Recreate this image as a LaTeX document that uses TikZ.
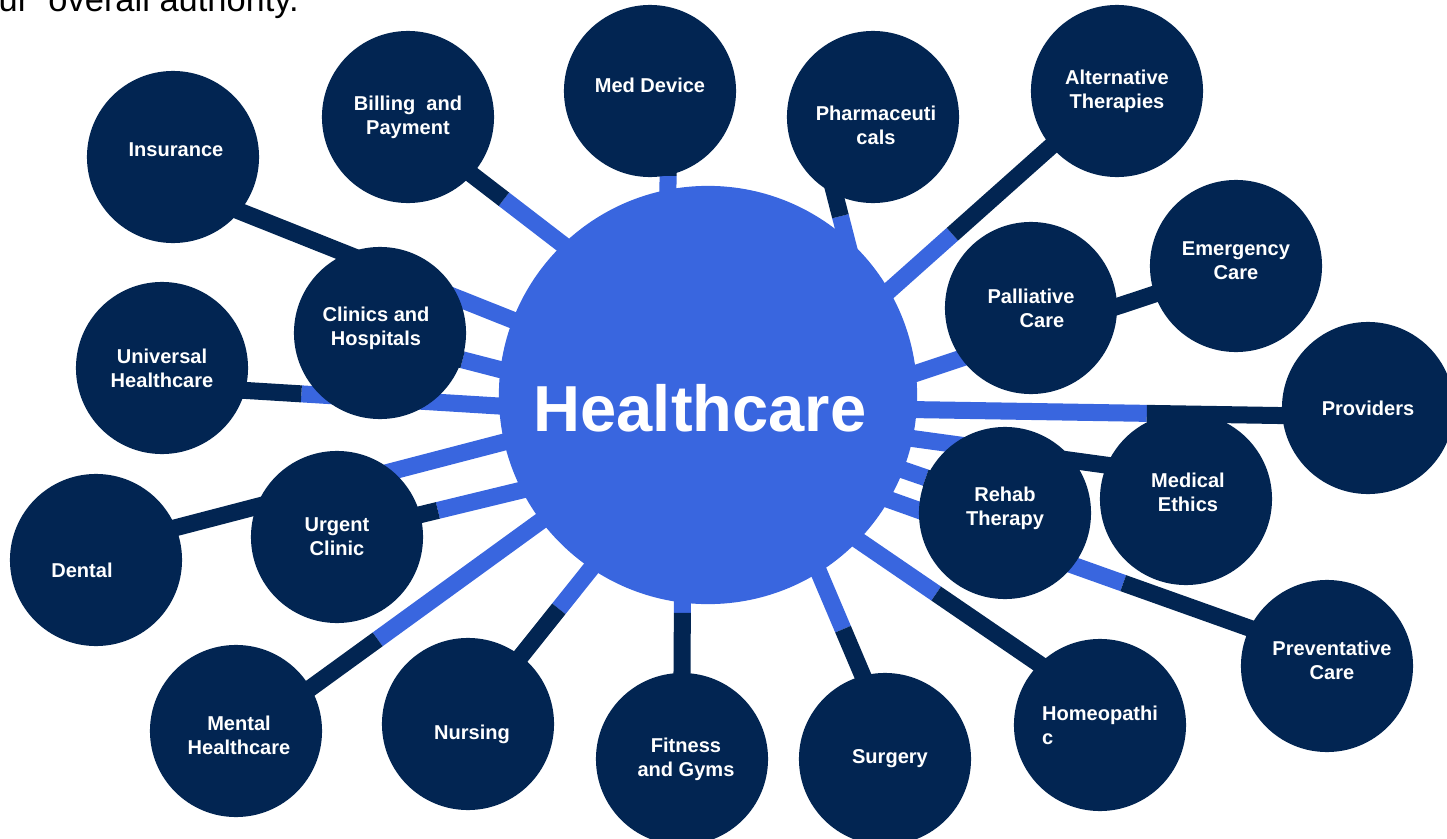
\documentclass[tikz,border=0pt]{standalone}
\usepackage{fontspec}
\setmainfont{Liberation Sans}
\usetikzlibrary{calc}
\definecolor{navy}{RGB}{2,37,82}
\definecolor{hubblue}{RGB}{57,102,223}
\pgfdeclarelayer{bg}
\pgfsetlayers{bg,main}

\begin{document}
\begin{tikzpicture}
    [x=0.01cm,y=-0.01cm,
     sat/.style={circle,fill=navy,minimum size=1.72cm,inner sep=0pt,text=white,
       align=center,font=\fontsize{5.7}{6.8}\selectfont\bfseries},
     sattext/.style={text=white,align=center,font=\fontsize{5.7}{6.8}\selectfont\bfseries},
     hubtext/.style={text=white,font=\fontsize{18.5}{22}\selectfont\bfseries},
     hubline/.style={hubblue,line width=0.17cm},
     satline/.style={navy,line width=0.17cm}]
    \useasboundingbox (0,0) rectangle (1447,839);
    \clip (0,0) rectangle (1447,839);

    \node[anchor=base west,inner sep=0pt,font=\fontsize{9.8}{12}\selectfont] (topnote) at (-2,11) {ur\ \ overall authority.};

    \node[circle,fill=hubblue,minimum size=4.18cm,inner sep=0pt,
      label={[hubtext,xshift=-0.08cm,yshift=-0.13cm]center:Healthcare}] (hub) at (708,395) {};

    \node[sat,label={[sattext,xshift=0.03cm,yshift=0.07cm]center:Insurance}] (ins) at (173,157) {};
    \node[sat] (bill) at (408,117) {Billing\ \ and\\Payment};
    \node[sat,label={[sattext,yshift=0.06cm]center:Med Device}] (med) at (650,91) {};
    \node[sat,label={[sattext,xshift=0.03cm,yshift=-0.08cm]center:Pharmaceuti\\cals}] (pharm) at (873,117) {};
    \node[sat] (alt) at (1117,91) {Alternative\\Therapies};
    \node[sat,label={[sattext,yshift=0.05cm]center:Emergency\\Care}] (emer) at (1236,266) {};
    \node[sat] (pall) at (1031,308) {Palliative\\\hspace*{0.22cm}Care};
    \node[sat] (prov) at (1368,408) {Providers};
    \node[sat,label={[sattext,xshift=0.02cm,yshift=0.07cm]center:Medical\\Ethics}] (ethics) at (1186,499) {};
    \node[sat,label={[sattext,yshift=0.05cm]center:Rehab\\Therapy}] (rehab) at (1005,513) {};
    \node[sat,label={[sattext,xshift=0.05cm,yshift=0.06cm]center:Preventative\\Care}] (prev) at (1327,666) {};
    \node[sat,align=left] (homeo) at (1100,725) {Homeopathi\\c};
    \node[sat,label={[sattext,xshift=0.05cm]center:Surgery}] (surg) at (885,759) {};
    \node[sat,label={[sattext,xshift=0.04cm]center:Fitness\\and Gyms}] (fit) at (682,759) {};
    \node[sat,label={[sattext,xshift=0.04cm,yshift=-0.1cm]center:Nursing}] (nurs) at (468,724) {};
    \node[sat,label={[sattext,xshift=0.03cm,yshift=-0.04cm]center:Mental\\Healthcare}] (mental) at (236,731) {};
    \node[sat,label={[sattext,xshift=-0.14cm,yshift=-0.1cm]center:Dental}] (dental) at (96,560) {};
    \node[sat] (urgent) at (337,537) {Urgent\\Clinic};
    \node[sat] (uni) at (162,368) {Universal\\Healthcare};
    \node[sat,label={[sattext,xshift=-0.04cm,yshift=0.05cm]center:Clinics and\\Hospitals}] (clin) at (380,333) {};

    \begin{pgfonlayer}{bg}
    \foreach \a/\s/\b/\f in {159/ins/321/0.41, 173/clin/342/1, 183/uni/345/0.78,
        193/dental/22/0.53, 207/urgent/15/0.83, 217/mental/30/0.71,
        236/nurs/52/0.46, 263/fit/90/0.14, 302/surg/105/0.55,
        316/homeo/135/0.43, 330/prev/154/0.65, 339/rehab/156/1,
        348/ethics/157/0.46, 356/prov/185/0.63, 6/emer/199/0.48,
        30/alt/220/0.39, 49/pharm/244/0.49, 101/med/282/1, 134/bill/318/0.65} {
      \coordinate (split) at ($(hub.\a)!\f!(\s.\b)$);
      \draw[hubline] ($(hub.\a)!-0.15cm!(\s.\b)$) -- (split);
      \draw[satline] (split) -- ($(\s.\b)!-0.15cm!(hub.\a)$);
    }
    \end{pgfonlayer}
\end{tikzpicture}
\end{document}
